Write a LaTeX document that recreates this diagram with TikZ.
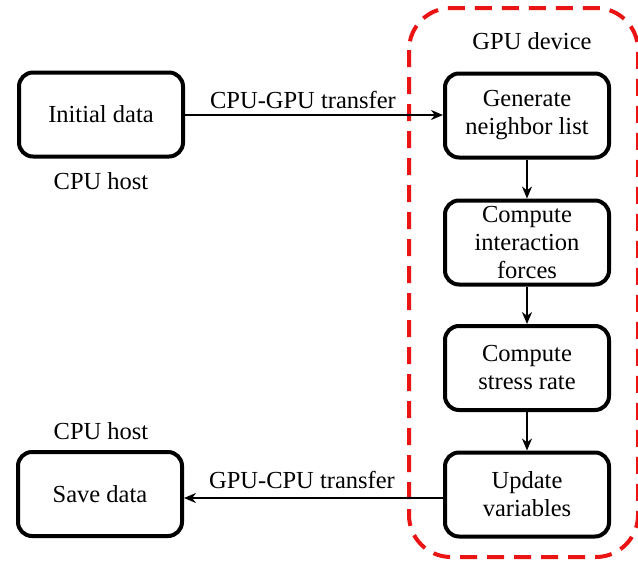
\documentclass[tikz,border=0pt]{standalone}
\usepackage{fontspec}
\setmainfont{Liberation Serif}
\usetikzlibrary{arrows.meta}
\definecolor{dashred}{RGB}{235,20,20}
\begin{document}
\begin{tikzpicture}[x=1pt,y=-1pt,
  procbox/.style={draw=black, line width=4pt, rounded corners=14pt,
    minimum width=164pt, minimum height=84pt, align=center, inner sep=2pt,
    font=\fontsize{24.5}{28}\selectfont},
  lbl/.style={font=\fontsize{24.5}{28}\selectfont, inner sep=0pt},
  conn/.style={line width=2.8pt, -{Stealth[length=12pt,width=10pt]}}]
\useasboundingbox (0,0) rectangle (638,563);
\fill[white] (0,0) rectangle (638,563);
\draw[dashred, line width=4pt, dash pattern=on 17pt off 10pt, rounded corners=42pt]
  (409,8) rectangle (638,557);
\node[procbox] (init) at (101,114.5) {Initial data};
\node[procbox] (save) at (100,494) {Save data};
\node[procbox] (gen) at (527,115.5) {Generate\\neighbor list};
\node[procbox] (comp) at (527,242.5) {Compute\\interaction\\forces};
\node[procbox] (stress) at (527,368) {Compute\\stress rate};
\node[procbox] (upd) at (527,494.5) {Update\\variables};
\node[lbl] (host1) at (101,181) {CPU host};
\node[lbl] (host2) at (101,431) {CPU host};
\node[lbl] (gpu) at (532,41) {GPU device};
\node[lbl] (t1) at (303,100) {CPU-GPU transfer};
\node[lbl] (t2) at (302,480) {GPU-CPU transfer};
\draw[conn] (init.east |- 0,115) -- (gen.west |- 0,115);
\draw[conn] (upd.west |- 0,498) -- (save.east |- 0,498);
\draw[conn] (gen) -- (comp);
\draw[conn] (comp) -- (stress);
\draw[conn] (stress) -- (upd);
\end{tikzpicture}
\end{document}
